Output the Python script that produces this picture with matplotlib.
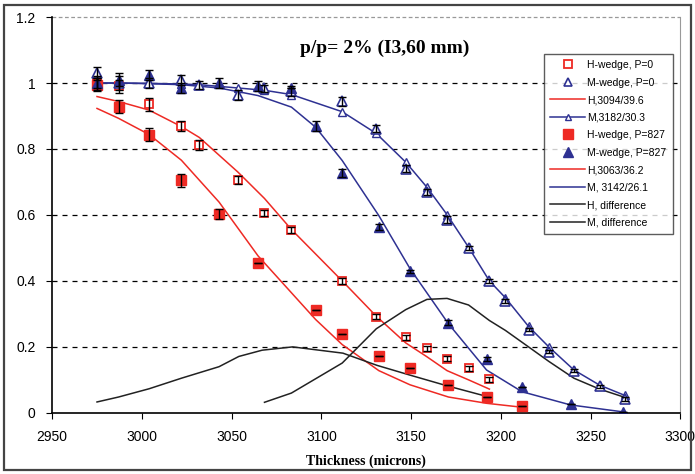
import numpy as np
import matplotlib
matplotlib.use('Agg')
from matplotlib import pyplot as plt
from matplotlib.patches import Rectangle
from matplotlib.lines import Line2D

# data
# H-wedge, P=0 (open squares) and its fit
h0_x = [2975, 2987, 3004, 3022, 3032, 3053.5, 3068.3, 3083.3, 3111.6, 3130.6, 3147, 3158.8, 3170, 3182, 3193.6]
h0_y = [1.0, 0.99, 0.936, 0.869, 0.811, 0.706, 0.606, 0.554, 0.40, 0.292, 0.229, 0.196, 0.164, 0.135, 0.102]
h0_err = [0.015, 0.02, 0.02, 0.015, 0.015, 0.012, 0.01, 0.01, 0.008, 0.008, 0.008, 0.007, 0.008, 0.007, 0.007]
h0_fit = [0.959, 0.944, 0.918, 0.868, 0.835, 0.73, 0.65, 0.556, 0.40, 0.293, 0.212, 0.17, 0.128, 0.10, 0.072]

# M-wedge, P=0 (open triangles) and its fit
m0_x = [2975, 2987, 3004, 3022, 3032, 3053.5, 3068.3, 3083.3, 3111.6, 3130.6, 3147, 3158.8, 3170, 3182,
        3193.6, 3202.5, 3215.4, 3226.7, 3240.7, 3255, 3269]
m0_y = [1.03, 1.0, 1.0, 1.01, 0.994, 0.965, 0.984, 0.975, 0.944, 0.862, 0.74, 0.669, 0.586, 0.50,
        0.40, 0.339, 0.252, 0.186, 0.128, 0.08, 0.042]
m0_err = [0.02, 0.02, 0.015, 0.015, 0.012, 0.015, 0.01, 0.015, 0.015, 0.01, 0.01, 0.01, 0.01, 0.005,
          0.005, 0.005, 0.005, 0.005, 0.005, 0.005, 0.005]
m0_fit = [1.0, 1.0, 0.999, 0.997, 0.995, 0.985, 0.978, 0.965, 0.913, 0.847, 0.76, 0.684, 0.601, 0.502,
          0.40, 0.349, 0.262, 0.20, 0.13, 0.084, 0.053]

# H-wedge, P=827 (filled squares) and its fit
h8_x = [2975, 2987, 3004, 3022, 3043, 3064.7, 3096.8, 3111.6, 3132, 3149.4, 3170.8, 3192, 3211.8]
h8_y = [0.995, 0.928, 0.843, 0.705, 0.603, 0.453, 0.313, 0.238, 0.171, 0.136, 0.084, 0.047, 0.021]
h8_err = [0.02, 0.02, 0.02, 0.02, 0.015, 0.0, 0.0, 0.0, 0.0, 0.0, 0.0, 0.0, 0.0]
h8_fit = [0.923, 0.893, 0.844, 0.766, 0.639, 0.476, 0.283, 0.207, 0.128, 0.085, 0.048, 0.029, 0.017]

# M-wedge, P=827 (filled triangles) and its fit
m8_x = [2975, 2987, 3004, 3022, 3043, 3064.7, 3083.3, 3096.8, 3111.6, 3132, 3149.4, 3170.8, 3192,
        3211.8, 3238.8, 3268]
m8_y = [1.0, 1.01, 1.025, 0.985, 1.0, 0.99, 0.984, 0.871, 0.728, 0.563, 0.429, 0.273, 0.163,
        0.078, 0.027, 0.003]
m8_err = [0.02, 0.02, 0.015, 0.015, 0.015, 0.015, 0.0, 0.015, 0.012, 0.01, 0.005, 0.008, 0.005,
          0.0, 0.0, 0.0]
m8_fit = [1.0, 1.0, 0.998, 0.995, 0.985, 0.962, 0.927, 0.866, 0.765, 0.598, 0.437, 0.27, 0.13,
          0.064, 0.024, 0.003]

# differences between the fits
hd_x = [2975, 2987, 3004, 3022, 3043, 3054, 3067, 3084, 3112, 3131, 3149, 3170, 3192]
hd_y = [0.033, 0.048, 0.073, 0.105, 0.14, 0.171, 0.19, 0.20, 0.181, 0.144, 0.115, 0.082, 0.05]
md_x = [3068.3, 3083.3, 3111.6, 3130.6, 3147, 3158.8, 3170, 3182, 3193.6, 3202.5, 3215.4, 3226.7,
        3240.7, 3255, 3269]
md_y = [0.032, 0.06, 0.151, 0.255, 0.313, 0.344, 0.347, 0.327, 0.28, 0.25, 0.20, 0.156, 0.105,
        0.072, 0.047]

labels = ['H-wedge, P=0', 'M-wedge, P=0', 'H,3094/39.6', 'M,3182/30.3', 'H-wedge, P=827',
          'M-wedge, P=827', 'H,3063/36.2', 'M, 3142/26.1', 'H, difference', 'M, difference']

RED = '#ee2a24'
BLUE = '#2e3192'
DARK = '#222222'

plt.rcParams['font.family'] = ['Liberation Sans', 'DejaVu Sans']

fig = plt.figure(figsize=(6.95, 4.74), dpi=100)
ax = fig.add_axes([0.075, 0.129, 0.904, 0.835])

# fits and differences
ax.plot(h0_x, h0_fit, color=RED, lw=1.1, zorder=2)
ax.plot(m0_x, m0_fit, color=BLUE, lw=1.1, marker='^', mfc='white', mec=BLUE, ms=5.5, zorder=2)
ax.plot(h8_x, h8_fit, color=RED, lw=1.1, zorder=2)
ax.plot(m8_x, m8_fit, color=BLUE, lw=1.1, zorder=2)
ax.plot(hd_x, hd_y, color=DARK, lw=1.1, zorder=2)
ax.plot(md_x, md_y, color=DARK, lw=1.1, zorder=2)

# data points
ax.plot(h0_x, h0_y, ls='none', marker='s', mfc='white', mec=RED, mew=1.3, ms=6, zorder=3)
ax.plot(m0_x, m0_y, ls='none', marker='^', mfc='white', mec=BLUE, mew=1.2, ms=6.5, zorder=3)
ax.plot(h8_x, h8_y, ls='none', marker='s', color=RED, ms=6.5, zorder=3)
ax.plot(m8_x, m8_y, ls='none', marker='^', color=BLUE, ms=7, zorder=3)

# error bars
for xs, ys, es in [(h0_x, h0_y, h0_err), (m0_x, m0_y, m0_err), (h8_x, h8_y, h8_err), (m8_x, m8_y, m8_err)]:
    ax.errorbar(xs, ys, yerr=es, fmt='none', ecolor='black', elinewidth=1, capsize=3, capthick=1, zorder=4)

ax.set_xlim(2950, 3300)
ax.set_ylim(0, 1.2)
ax.set_xticks(np.arange(2950, 3301, 50))
ax.set_yticks([0, 0.2, 0.4, 0.6, 0.8, 1.0, 1.2])
ax.set_yticklabels(['0', '0.2', '0.4', '0.6', '0.8', '1', '1.2'])
ax.tick_params(labelsize=10, direction='out', length=4, pad=8)
for y in [0.2, 0.4, 0.6, 0.8, 1.0]:
    ax.axhline(y, color='black', ls=(0, (4, 4)), lw=0.9, zorder=1)
ax.axhline(1.2, color='#999999', ls=(0, (3, 2)), lw=0.9, zorder=1, clip_on=False)
ax.spines['top'].set_visible(False)
ax.spines['right'].set_color('#999999')
ax.spines['left'].set_linewidth(1.2)
ax.spines['bottom'].set_linewidth(1.2)

ax.text(0.53, 0.922, 'p/p= 2% (I3,60 mm)', transform=ax.transAxes, ha='center', va='center',
        fontsize=14, fontweight='bold', family='Liberation Serif')
ax.set_xlabel('Thickness (microns)', fontsize=10, fontweight='bold', family='Liberation Serif', labelpad=8)

# legend
handles = [
    Line2D([], [], ls='none', marker='s', mfc='white', mec=RED, mew=1.3, ms=6),
    Line2D([], [], ls='none', marker='^', mfc='white', mec=BLUE, mew=1.2, ms=6),
    Line2D([], [], color=RED, lw=1.1),
    Line2D([], [], color=BLUE, lw=1.1, marker='^', mfc='white', mec=BLUE, ms=5),
    Line2D([], [], ls='none', marker='s', color=RED, ms=6.5),
    Line2D([], [], ls='none', marker='^', color=BLUE, ms=6.5),
    Line2D([], [], color=RED, lw=1.1),
    Line2D([], [], color=BLUE, lw=1.1),
    Line2D([], [], color=DARK, lw=1.1),
    Line2D([], [], color=DARK, lw=1.1),
]
leg = ax.legend(handles, labels, loc='upper right', bbox_to_anchor=(0.988, 0.907), borderaxespad=0,
                fontsize=7.5, frameon=True, fancybox=False, edgecolor='#333333', handlelength=3.4,
                handletextpad=0.2, labelspacing=0.72, borderpad=0.6)
leg.get_frame().set_linewidth(1.0)

fig.patches.append(Rectangle((0.006, 0.008), 0.988, 0.982, transform=fig.transFigure,
                             fill=False, edgecolor='#444444', lw=1.6))

fig.savefig('out.png', dpi=100)
